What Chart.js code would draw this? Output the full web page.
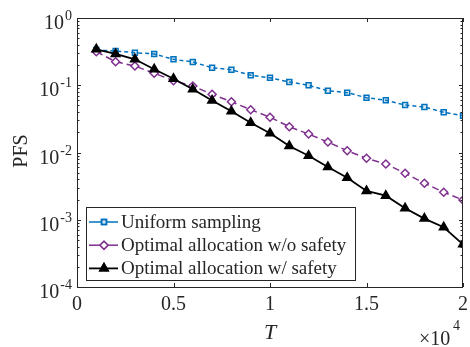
<!DOCTYPE html>
<html>
<head>
<meta charset="utf-8">
<script src="https://cdn.jsdelivr.net/npm/chart.js@4/dist/chart.umd.min.js"></script>
<style>
  html, body { margin: 0; padding: 0; background: #fff; }
  #wrap { width: 470px; height: 347px; }
</style>
</head>
<body>
<div id="wrap"><canvas id="pfsChart" width="470" height="347"></canvas></div>
<script>
// sample budgets T
const budgets = [1000, 2000, 3000, 4000, 5000, 6000, 7000, 8000, 9000, 10000,
                 11000, 12000, 13000, 14000, 15000, 16000, 17000, 18000, 19000, 20000];

const uniformPFS = [0.334, 0.323, 0.305, 0.292, 0.243, 0.222, 0.182, 0.170, 0.141, 0.129,
                    0.112, 0.0998, 0.083, 0.0775, 0.0653, 0.0597, 0.0508, 0.0475, 0.0396, 0.0352];
const noSafetyPFS = [0.315, 0.224, 0.193, 0.151, 0.117, 0.0975, 0.0733, 0.0569, 0.0433, 0.0335,
                     0.0242, 0.0188, 0.0143, 0.0106, 0.0082, 0.00675, 0.00491, 0.00349, 0.00256, 0.00197];
const safetyPFS = [0.343, 0.292, 0.243, 0.173, 0.125, 0.0871, 0.0593, 0.041, 0.0277, 0.0193,
                   0.0125, 0.00896, 0.00608, 0.00422, 0.00268, 0.00228, 0.00148, 0.00104, 0.000773, 0.000431];

const xTicks = [0, 5000, 10000, 15000, 20000];
const yDecades = [-4, -3, -2, -1, 0];
const seriesNames = ['Uniform sampling', 'Optimal allocation w/o safety', 'Optimal allocation w/ safety'];

const serif = '"Liberation Serif", "DejaVu Serif", serif';
const axisColor = '#262626';

function toPoints(vals) {
    return vals.map((v, i) => ({ x: budgets[i], y: v }));
}

// box, inward ticks, log tick labels, x-exponent, legend
const decorPlugin = {
    id: 'decor',
    afterDraw(chart) {
        const ctx = chart.ctx;
        const a = chart.chartArea;
        const xs = chart.scales.x;
        const ys = chart.scales.y;
        ctx.save();
        ctx.strokeStyle = axisColor;
        ctx.lineWidth = 1;
        ctx.strokeRect(a.left + 0.5, a.top + 0.5, a.right - a.left - 1, a.bottom - a.top);

        ctx.beginPath();
        xTicks.forEach(t => {
            const px = Math.round(xs.getPixelForValue(t)) + 0.5;
            ctx.moveTo(px, a.bottom); ctx.lineTo(px, a.bottom - 4);
            ctx.moveTo(px, a.top); ctx.lineTo(px, a.top + 4);
        });
        yDecades.forEach(d => {
            for (let m = 1; m <= 9; m++) {
                if (d === 0 && m > 1) break;
                const py = Math.round(ys.getPixelForValue(m * Math.pow(10, d))) + 0.5;
                const len = m === 1 ? 4 : 2.5;
                ctx.moveTo(a.left, py); ctx.lineTo(a.left + len, py);
                ctx.moveTo(a.right, py); ctx.lineTo(a.right - len, py);
            }
        });
        ctx.stroke();

        // y tick labels 10^d
        ctx.fillStyle = axisColor;
        ctx.textBaseline = 'alphabetic';
        yDecades.forEach(d => {
            const py = ys.getPixelForValue(Math.pow(10, d));
            const sup = String(d);
            ctx.font = '14px ' + serif;
            const supW = ctx.measureText(sup).width;
            ctx.textAlign = 'left';
            const right = a.left - 5;
            ctx.fillText(sup, right - supW, py + 2);
            ctx.font = '20px ' + serif;
            ctx.textAlign = 'right';
            ctx.fillText('10', right - supW - 1, py + 11);
        });

        // x exponent
        ctx.textAlign = 'left';
        ctx.font = '20px ' + serif;
        ctx.fillText('\u00d710', 419, 345);
        ctx.font = '14px ' + serif;
        ctx.fillText('4', 453, 330);

        // axis titles
        ctx.font = 'italic 22px ' + serif;
        ctx.textAlign = 'center';
        ctx.fillText('T', (a.left + a.right) / 2, 339);
        ctx.save();
        ctx.translate(27, 151);
        ctx.rotate(-Math.PI / 2);
        ctx.font = '20px ' + serif;
        ctx.fillText('PFS', 0, 0);
        ctx.restore();

        // legend
        const lx = 86, ly = 207, lw = 269, lh = 73;
        ctx.fillStyle = '#fff';
        ctx.fillRect(lx, ly, lw, lh);
        ctx.strokeStyle = axisColor;
        ctx.lineWidth = 1;
        ctx.strokeRect(lx + 0.5, ly + 0.5, lw, lh);
        chart.data.datasets.forEach((ds, i) => {
            const cy = ly + 15 + i * 23.2;
            ctx.strokeStyle = ds.borderColor;
            ctx.lineWidth = ds.borderWidth;
            ctx.setLineDash([]);
            ctx.beginPath();
            ctx.moveTo(lx + 3, cy); ctx.lineTo(lx + 32, cy);
            ctx.stroke();
            Chart.helpers.drawPoint(ctx, {
                pointStyle: ds.pointStyle,
                radius: ds.pointRadius,
                rotation: ds.pointRotation || 0,
                borderWidth: ds.pointBorderWidth
            }, lx + 18, cy);
            ctx.fillStyle = ds.pointBackgroundColor;
            ctx.strokeStyle = ds.pointBorderColor;
            ctx.fill();
            ctx.stroke();
            ctx.fillStyle = axisColor;
            ctx.font = '19px ' + serif;
            ctx.textAlign = 'left';
            ctx.textBaseline = 'middle';
            ctx.fillText(ds.label, lx + 35, cy + 1);
        });
        ctx.restore();
    }
};

new Chart(document.getElementById('pfsChart'), {
    type: 'line',
    data: {
        datasets: [
            {
                label: seriesNames[0],
                data: toPoints(uniformPFS),
                borderColor: '#0072BD',
                borderWidth: 1.5,
                borderDash: [4, 3],
                pointStyle: 'rect',
                pointRadius: 3.5,
                pointBorderWidth: 1.5,
                pointBorderColor: '#0072BD',
                pointBackgroundColor: 'rgba(0,114,189,0.15)',
                order: 3
            },
            {
                label: seriesNames[1],
                data: toPoints(noSafetyPFS),
                borderColor: '#7E2F8E',
                borderWidth: 1.5,
                borderDash: [7, 4],
                pointStyle: 'rectRot',
                pointRadius: 4,
                pointBorderWidth: 1.5,
                pointBorderColor: '#7E2F8E',
                pointBackgroundColor: '#ffffff',
                order: 2
            },
            {
                label: seriesNames[2],
                data: toPoints(safetyPFS),
                borderColor: '#000000',
                borderWidth: 1.8,
                pointStyle: 'triangle',
                pointRadius: 4.5,
                pointBorderWidth: 2,
                pointBorderColor: '#000000',
                pointBackgroundColor: '#000000',
                order: 1
            }
        ]
    },
    options: {
        responsive: false,
        animation: false,
        layout: { padding: { left: 0, right: 7, top: 18, bottom: 0 } },
        plugins: { legend: { display: false }, tooltip: { enabled: false } },
        scales: {
            x: {
                type: 'linear',
                min: 0,
                max: 20000,
                grid: { display: false, drawTicks: false },
                border: { display: false },
                afterBuildTicks: s => { s.ticks = xTicks.map(v => ({ value: v })); },
                afterFit: s => { s.height = 60; s.paddingLeft = 0; s.paddingRight = 0; },
                ticks: {
                    padding: 6,
                    maxRotation: 0,
                    color: axisColor,
                    font: { family: serif, size: 20 },
                    callback: v => String(v / 10000)
                }
            },
            y: {
                type: 'logarithmic',
                min: 1e-4,
                max: 1,
                grid: { display: false, drawTicks: false },
                border: { display: false },
                afterBuildTicks: s => { s.ticks = yDecades.map(d => ({ value: Math.pow(10, d) })); },
                afterFit: s => { s.width = 77; s.paddingTop = 0; s.paddingBottom = 0; },
                ticks: { display: false }
            }
        }
    },
    plugins: [decorPlugin]
});
</script>
</body>
</html>
